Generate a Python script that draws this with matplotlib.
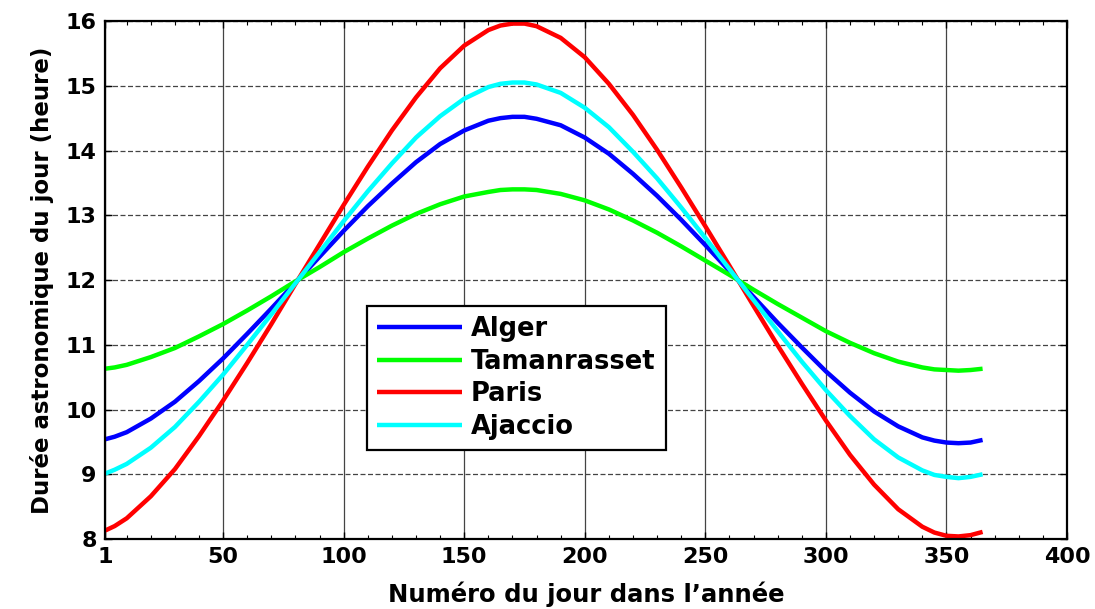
import matplotlib
matplotlib.use("Agg")
import matplotlib.pyplot as plt
from matplotlib.ticker import MultipleLocator

# day of year and astronomical day length (hours)
days = [1, 5, 10, 20, 30, 40, 50, 60, 70, 80, 90, 100, 110, 120, 130, 140, 150,
        160, 165, 170, 175, 180, 190, 200, 210, 220, 230, 240, 250, 260, 270,
        280, 290, 300, 310, 320, 330, 340, 345, 350, 355, 360, 365]

alger = [9.54, 9.58, 9.65, 9.86, 10.12, 10.44, 10.79, 11.17, 11.56, 11.96,
         12.36, 12.76, 13.14, 13.49, 13.82, 14.10, 14.31, 14.46, 14.50, 14.52,
         14.52, 14.49, 14.39, 14.20, 13.95, 13.64, 13.30, 12.93, 12.54, 12.14,
         11.74, 11.34, 10.96, 10.59, 10.26, 9.97, 9.74, 9.57, 9.52, 9.49, 9.48,
         9.49, 9.53]

tamanrasset = [10.63, 10.65, 10.69, 10.81, 10.95, 11.13, 11.32, 11.53, 11.75,
               11.98, 12.20, 12.43, 12.64, 12.84, 13.02, 13.17, 13.29, 13.36,
               13.39, 13.40, 13.40, 13.39, 13.33, 13.23, 13.09, 12.92, 12.73,
               12.52, 12.30, 12.08, 11.85, 11.63, 11.42, 11.21, 11.03, 10.87,
               10.74, 10.65, 10.62, 10.61, 10.60, 10.61, 10.63]

paris = [8.13, 8.20, 8.32, 8.66, 9.08, 9.59, 10.14, 10.72, 11.32, 11.94, 12.55,
         13.16, 13.75, 14.31, 14.82, 15.27, 15.62, 15.86, 15.93, 15.96, 15.96,
         15.92, 15.74, 15.44, 15.03, 14.55, 14.01, 13.43, 12.83, 12.22, 11.60,
         10.99, 10.40, 9.83, 9.30, 8.84, 8.46, 8.19, 8.10, 8.05, 8.04, 8.06,
         8.11]

ajaccio = [9.01, 9.07, 9.16, 9.41, 9.73, 10.12, 10.54, 11.00, 11.47, 11.95,
           12.43, 12.91, 13.37, 13.80, 14.20, 14.53, 14.80, 14.98, 15.03, 15.05,
           15.05, 15.02, 14.89, 14.66, 14.36, 13.98, 13.57, 13.12, 12.65, 12.17,
           11.69, 11.21, 10.74, 10.30, 9.90, 9.54, 9.26, 9.06, 8.99, 8.96, 8.94,
           8.96, 9.00]

series = [("Alger", alger, "#0000ff"),
          ("Tamanrasset", tamanrasset, "#00ff00"),
          ("Paris", paris, "#ff0000"),
          ("Ajaccio", ajaccio, "#00ffff")]

xticks = [1, 50, 100, 150, 200, 250, 300, 350, 400]

plt.rcParams['font.family'] = ['DejaVu Sans']
plt.rcParams['font.weight'] = 'bold'

fig = plt.figure(figsize=(10.95, 6.09), dpi=100)
ax = fig.add_axes([0.0959, 0.1149, 0.8785, 0.8506])

for name, vals, col in series:
    ax.plot(days, vals, color=col, lw=3.2, label=name, solid_capstyle='butt')

ax.set_xlim(1, 400)
ax.set_ylim(8, 16)
ax.set_xticks(xticks)
ax.xaxis.set_minor_locator(MultipleLocator(10))
ax.set_yticks(range(8, 17))

ax.tick_params(axis='both', which='major', direction='in', length=5, width=1,
               labelsize=16, top=True, right=True, pad=6)
ax.tick_params(axis='x', which='minor', direction='in', length=3, width=0.8,
               top=True, bottom=True)
for lab in ax.get_xticklabels() + ax.get_yticklabels():
    lab.set_fontweight('bold')

ax.grid(axis='x', which='major', color='#444444', lw=0.9, ls='-')
ax.grid(axis='y', which='major', color='#444444', lw=0.9, ls=(0, (4, 2)))
for s in ax.spines.values():
    s.set_linewidth(1.6)
    s.set_color('black')

ax.set_xlabel("Numéro du jour dans l’année", fontsize=17.5, fontweight='bold',
              labelpad=10)
ax.set_ylabel("Durée astronomique du jour (heure)", fontsize=16.5,
              fontweight='bold', labelpad=8)

leg = ax.legend(loc='upper left', bbox_to_anchor=(0.335, 0.4975),
                bbox_transform=fig.transFigure, borderaxespad=0,
                fontsize=18.5, handlelength=3.3, handletextpad=0.35,
                labelspacing=0.25, borderpad=0.4, fancybox=False,
                framealpha=1, edgecolor='black')
leg.get_frame().set_linewidth(1.6)
for t in leg.get_texts():
    t.set_fontweight('bold')

fig.savefig("out.png", dpi=100)
